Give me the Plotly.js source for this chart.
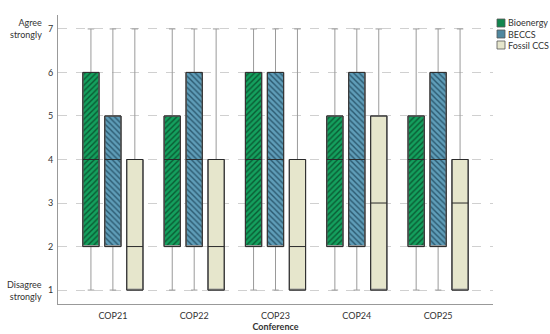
<!DOCTYPE html>
<html>
<head>
<meta charset="utf-8">
<script src="https://cdn.plot.ly/plotly-3.0.1.min.js"></script>
<style>html,body{margin:0;padding:0;background:#fff;}#chart{width:550px;height:334px;}</style>
</head>
<body>
<div id="chart"></div>
<script>
// Categories
const conferences = ["COP21", "COP22", "COP23", "COP24", "COP25"];
const seriesNames = ["Bioenergy", "BECCS", "Fossil CCS"];

// Box statistics per series (Likert 1-7)
const bioLow    = [1, 1, 1, 1, 1];
const bioQ1     = [2, 2, 2, 2, 2];
const bioMedian = [4, 4, 4, 4, 4];
const bioQ3     = [6, 5, 6, 5, 5];
const bioHigh   = [7, 7, 7, 7, 7];

const beccsLow    = [1, 1, 1, 1, 1];
const beccsQ1     = [2, 2, 2, 2, 2];
const beccsMedian = [4, 4, 4, 4, 4];
const beccsQ3     = [5, 6, 6, 6, 6];
const beccsHigh   = [7, 7, 7, 7, 7];

const fossilLow    = [1, 1, 1, 1, 1];
const fossilQ1     = [1, 1, 1, 1, 1];
const fossilMedian = [2, 2, 2, 3, 3];
const fossilQ3     = [4, 4, 4, 5, 4];
const fossilHigh   = [7, 7, 7, 7, 7];

const yTicks = [1, 2, 3, 4, 5, 6, 7];

const series = [
  {name: seriesNames[0], low: bioLow, q1: bioQ1, med: bioMedian, q3: bioQ3, high: bioHigh,
   color: "#14a05e", fg: "#0a5a33", shape: "/", swatch: "#11864f"},
  {name: seriesNames[1], low: beccsLow, q1: beccsQ1, med: beccsMedian, q3: beccsQ3, high: beccsHigh,
   color: "#5f9db8", fg: "#2c5a70", shape: "\\", swatch: "#4f879f"},
  {name: seriesNames[2], low: fossilLow, q1: fossilQ1, med: fossilMedian, q3: fossilQ3, high: fossilHigh,
   color: "#e6e6cc", fg: "#e6e6cc", shape: "", swatch: "#e6e6cc"}
];

// category index positions; series are placed side by side around each category
const catIndex = conferences.map((c, i) => i);
const slot = 0.27, boxW = 0.2;
const posFor = k => catIndex.map(i => i + (k - 1) * slot);

const traces = [];
// Patterned boxes as bars
series.forEach((s, k) => {
  const marker = {color: s.color, line: {color: "#444", width: 1}};
  if (s.shape) marker.pattern = {shape: s.shape, fgcolor: s.fg, bgcolor: s.color, size: 4, solidity: 0.35};
  traces.push({
    type: "bar", name: s.name, x: posFor(k), width: boxW,
    y: s.q3.map((v, i) => v - s.q1[i]), base: s.q1,
    marker: marker, hoverinfo: "skip", showlegend: false
  });
});
// Whiskers (grey)
series.forEach((s, k) => {
  traces.push({
    type: "box", name: s.name, x: posFor(k), width: boxW,
    q1: s.q1, median: s.q1, q3: s.q3, lowerfence: s.low, upperfence: s.high,
    fillcolor: "rgba(0,0,0,0)", line: {color: "#9a9a9a", width: 1},
    whiskerwidth: 0.4, boxpoints: false, showlegend: false, hoverinfo: "skip"
  });
});
// Box outlines and medians (dark)
series.forEach((s, k) => {
  traces.push({
    type: "box", name: s.name, x: posFor(k), width: boxW,
    q1: s.q1, median: s.med, q3: s.q3, lowerfence: s.q1, upperfence: s.q3,
    fillcolor: "rgba(0,0,0,0)", line: {color: "#2a2a2a", width: 1},
    whiskerwidth: 0, boxpoints: false, showlegend: false, hoverinfo: "skip"
  });
});

const FONT = "Lato, Noto Sans, sans-serif";
const W = 550, H = 334, M = {l: 58, r: 57, t: 15, b: 30};
const pw = W - M.l - M.r, ph = H - M.t - M.b;
const px2x = px => (px - M.l) / pw;
const py2y = py => 1 - (py - M.t) / ph;

// Compact legend (swatch + label) at the top right
const legendShapes = [], legendNotes = [];
series.forEach((s, k) => {
  const cy = 23 + k * 11;
  legendShapes.push({type: "rect", xref: "paper", yref: "paper",
    x0: px2x(497), x1: px2x(505), y0: py2y(cy + 4), y1: py2y(cy - 4),
    fillcolor: s.swatch, line: {color: "#555", width: 0.8}});
  legendNotes.push({text: s.name, xref: "paper", yref: "paper", x: px2x(507), y: py2y(cy),
    xanchor: "left", yanchor: "middle", showarrow: false, borderpad: 0,
    font: {size: 9, color: "#333"}});
});

const layout = {
  width: W, height: H,
  margin: {l: M.l, r: M.r, t: M.t, b: M.b, pad: 0, autoexpand: false},
  paper_bgcolor: "#fff", plot_bgcolor: "#fff",
  font: {family: FONT, size: 9, color: "#333"},
  barmode: "overlay", boxmode: "overlay",
  xaxis: {
    range: [-0.675, 4.675], tickvals: catIndex, ticktext: conferences,
    showline: true, linecolor: "#999", linewidth: 1,
    showgrid: false, zeroline: false, ticks: "outside", ticklen: 3, tickcolor: "rgba(0,0,0,0)",
    tickfont: {size: 9, color: "#333"},
    title: {text: "<b>Conference</b>", font: {size: 9, color: "#333"}, standoff: 2}
  },
  yaxis: {
    range: [0.68, 7.32], tickvals: yTicks, ticktext: yTicks.map(String),
    showline: true, linecolor: "#999", linewidth: 1,
    showgrid: true, gridcolor: "#d0d0d0", griddash: "dash", gridwidth: 1,
    zeroline: false, ticks: "outside", ticklen: 2, tickcolor: "rgba(0,0,0,0)",
    tickfont: {size: 9, color: "#333"}
  },
  shapes: legendShapes,
  annotations: [
    {text: "Agree<br>strongly", xref: "paper", yref: "y", x: -0.032, y: 7,
     xanchor: "right", yanchor: "middle", align: "right", showarrow: false,
     font: {size: 9, color: "#333"}},
    {text: "Disagree<br>strongly", xref: "paper", yref: "y", x: -0.032, y: 1,
     xanchor: "right", yanchor: "middle", align: "right", showarrow: false,
     font: {size: 9, color: "#333"}}
  ].concat(legendNotes),
  showlegend: false
};

Plotly.newPlot("chart", traces, layout, {displayModeBar: false, staticPlot: true});
</script>
</body>
</html>
